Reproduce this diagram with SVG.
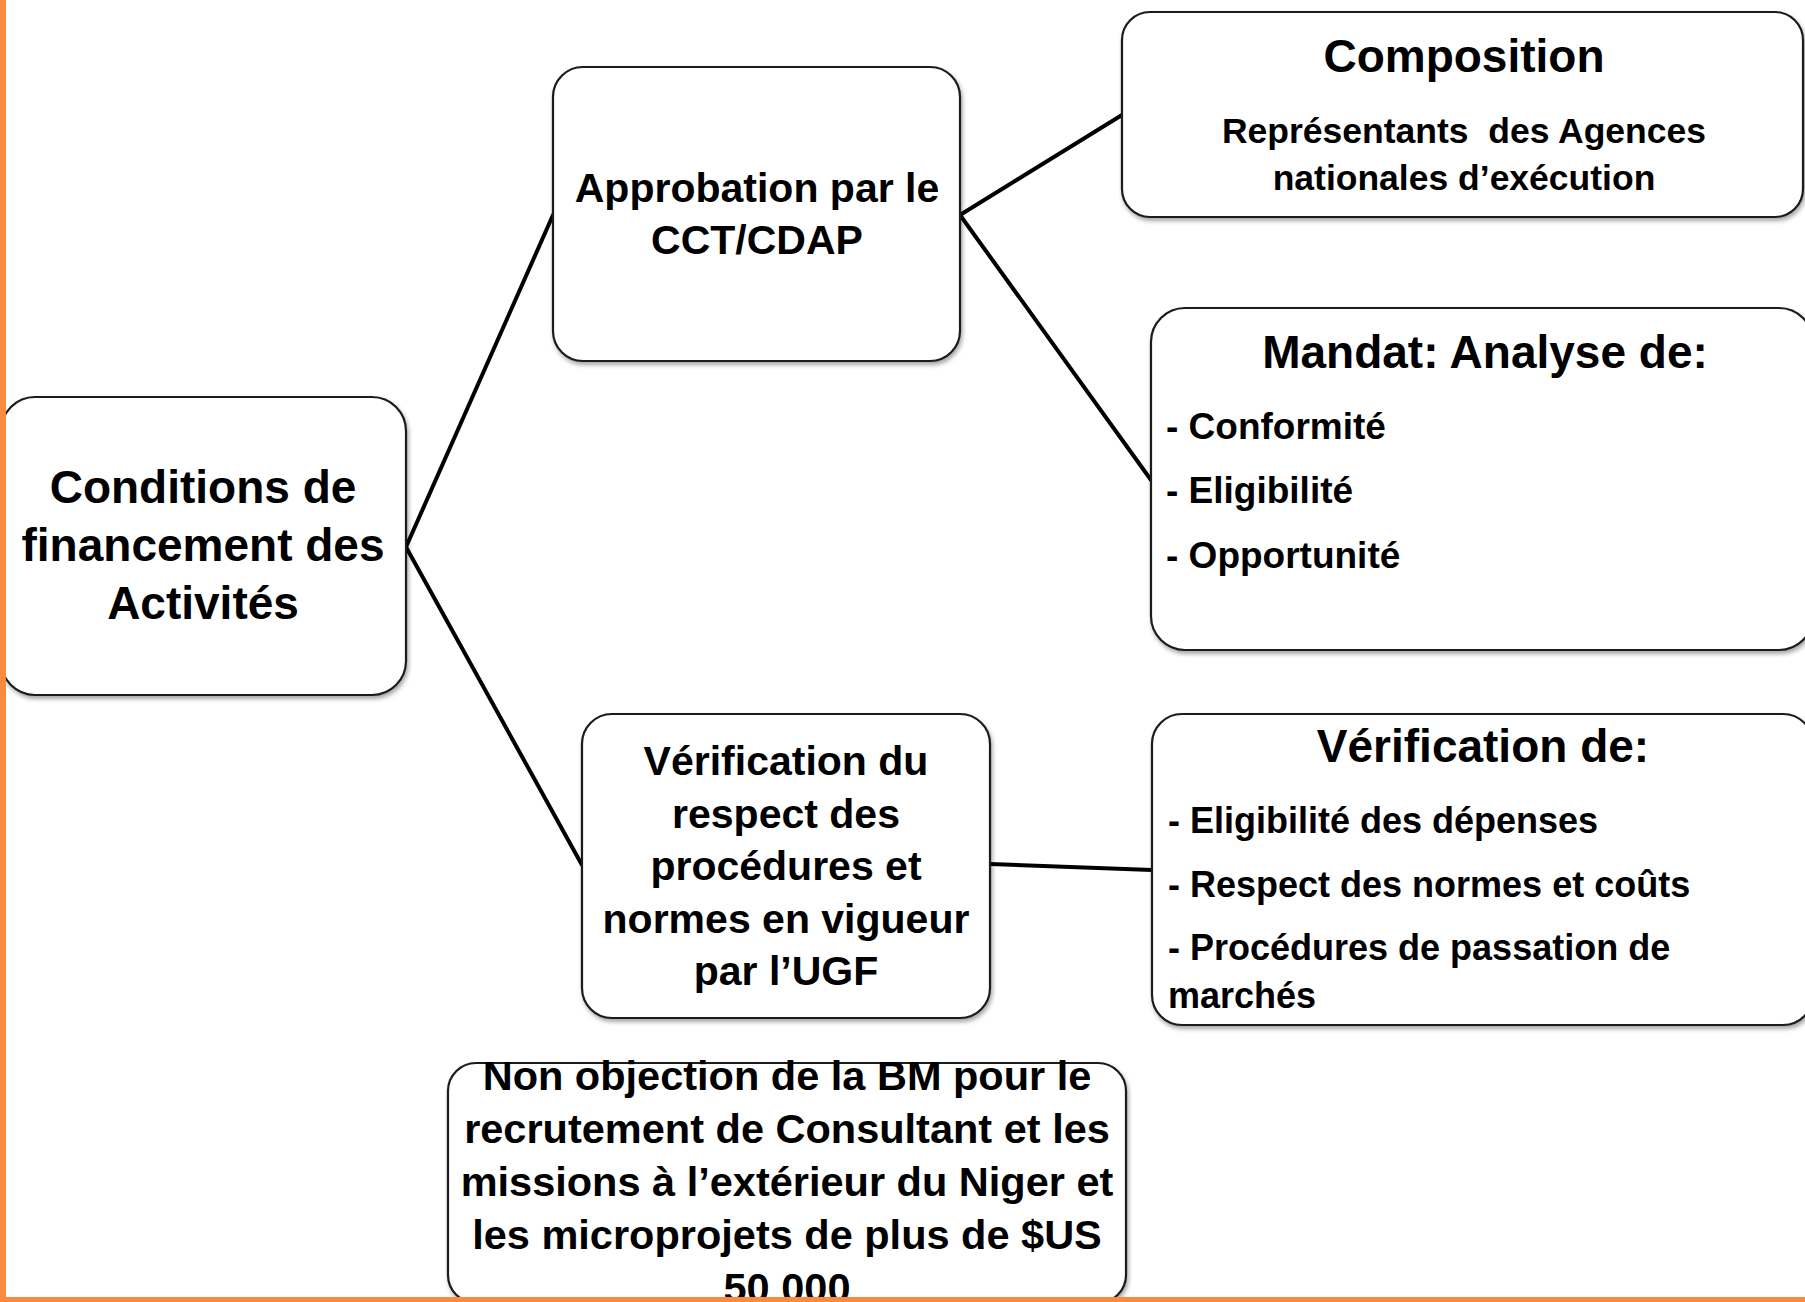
<svg xmlns="http://www.w3.org/2000/svg" width="1805" height="1302" viewBox="0 0 1805 1302">
<style>
.box{fill:#fff;stroke:#1a1a1a;stroke-width:2.2;filter:url(#sh)}
.conn line{stroke:#000;stroke-width:4;stroke-linecap:round}
text{font-family:"Liberation Sans",Arial,sans-serif;font-weight:bold;fill:#000}
.c{text-anchor:middle}
.t46{font-size:46px}
.t41{font-size:41px}
.t42{font-size:41.5px}
.t36{font-size:36px}
.t37{font-size:37px}
.t35{font-size:35.5px}
.band{fill:#FA8A3C}
</style>
<defs>
<filter id="sh" x="-10%" y="-10%" width="120%" height="125%">
<feDropShadow dx="1.5" dy="3" stdDeviation="2" flood-color="#000" flood-opacity="0.35"/>
</filter>
</defs>
<rect width="1805" height="1302" fill="#fff"/>
<g class="conn" id="connectors">
<line x1="406" y1="547" x2="553" y2="215"/>
<line x1="406" y1="547" x2="582" y2="865"/>
<line x1="960" y1="215" x2="1122" y2="115"/>
<line x1="960" y1="215" x2="1151" y2="480"/>
<line x1="990" y1="864" x2="1152" y2="870"/>
</g>
<g id="conditions">
<rect class="box" x="1" y="397" width="405" height="298" rx="34"/>
<text class="c t46" x="203" y="503">Conditions de</text>
<text class="c t46" x="203" y="561">financement des</text>
<text class="c t46" x="203" y="619">Activités</text>
</g>
<g id="approbation">
<rect class="box" x="553" y="67" width="407" height="294" rx="30"/>
<text class="c t41" x="757" y="202">Approbation par le</text>
<text class="c t41" x="757" y="254">CCT/CDAP</text>
</g>
<g id="composition">
<rect class="box" x="1122" y="12" width="681" height="205" rx="28"/>
<text class="c t46" x="1464" y="72">Composition</text>
<text class="c t35" x="1464" y="143" style="white-space:pre">Représentants  des Agences</text>
<text class="c t35" x="1464" y="190">nationales d’exécution</text>
</g>
<g id="mandat">
<rect class="box" x="1151" y="308" width="662" height="342" rx="34"/>
<text class="c t46" x="1485" y="368">Mandat: Analyse de:</text>
<text class="t37" x="1166" y="439">- Conformité</text>
<text class="t37" x="1166" y="503">- Eligibilité</text>
<text class="t37" x="1166" y="568">- Opportunité</text>
</g>
<g id="verification-ugf">
<rect class="box" x="582" y="714" width="408" height="304" rx="30"/>
<text class="c t41" x="786" y="775">Vérification du</text>
<text class="c t41" x="786" y="828">respect des</text>
<text class="c t41" x="786" y="880">procédures et</text>
<text class="c t41" x="786" y="933">normes en vigueur</text>
<text class="c t41" x="786" y="985">par l’UGF</text>
</g>
<g id="verification-de">
<rect class="box" x="1152" y="714" width="661" height="311" rx="30"/>
<text class="c t46" x="1483" y="762">Vérification de:</text>
<text class="t36" x="1168" y="833">- Eligibilité des dépenses</text>
<text class="t36" x="1168" y="897">- Respect des normes et coûts</text>
<text class="t36" x="1168" y="960">- Procédures de passation de</text>
<text class="t36" x="1168" y="1008">marchés</text>
</g>
<g id="non-objection">
<rect class="box" x="448" y="1063" width="678" height="240" rx="28"/>
<text class="c t42" x="787" y="1090">Non objection de la BM pour le</text>
<text class="c t42" x="787" y="1143">recrutement de Consultant et les</text>
<text class="c t42" x="787" y="1196">missions à l’extérieur du Niger et</text>
<text class="c t42" x="787" y="1249">les microprojets de plus de $US</text>
<text class="c t42" x="787" y="1302">50 000</text>
</g>
<rect class="band" x="0" y="0" width="6" height="1302"/>
<rect class="band" x="0" y="1297" width="1805" height="5"/>
</svg>
